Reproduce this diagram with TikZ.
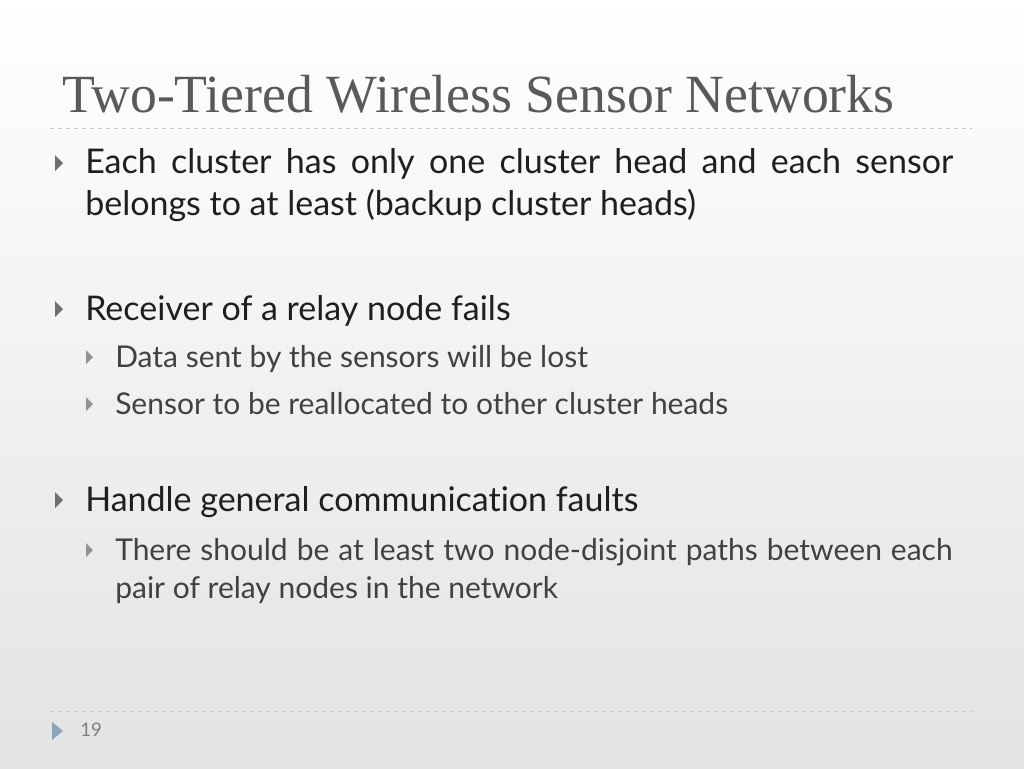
\documentclass[tikz,border=0pt]{standalone}
\usepackage{fontspec}
\setmainfont[Ligatures=NoCommon]{Lato}
\newfontfamily\titlefont{Liberation Serif}
\definecolor{txt}{HTML}{1F1F1F}
\definecolor{ttl}{HTML}{595959}
\definecolor{bul}{HTML}{6F6F6F}
\definecolor{pgn}{HTML}{8DA4B8}
\begin{document}
\begin{tikzpicture}[x=0.75pt,y=-0.75pt,
  lvlone/.style={anchor=base west,inner sep=0,font=\fontsize{25.5}{31.5}\selectfont,text=txt},
  lvltwo/.style={anchor=base west,inner sep=0,font=\fontsize{22.5}{28.5}\selectfont,text=txt!85},
  tri/.style={fill=bul,draw=none},
  sep/.style={draw=gray!45,dashed,line width=0.6pt}]
\shade[top color=white,bottom color=gray!22] (0,0) rectangle (1024,768);
\useasboundingbox (0,0) rectangle (1024,768);
\node[anchor=base west,inner sep=0,font=\titlefont\fontsize{40.3}{44}\selectfont,text=ttl] (title) at (62,112) {Two-Tiered Wireless Sensor Networks};
\draw[sep] (50,128) -- (972,128);
\draw[sep] (50,711) -- (972,711);
% bullets
\foreach \y in {163,309,500}{\fill[tri] (55,\y-8) -- (63,\y) -- (55,\y+8) -- cycle;}
\foreach \y in {357,404,550}{\fill[tri,fill=bul!75] (86,\y-7) -- (93,\y) -- (86,\y+7) -- cycle;}
\node[lvlone,text width=651pt,align=justify] (b1) at (85,173) {Each cluster has only one cluster head and each sensor\linebreak belongs to at least (backup cluster heads)};
\node[lvlone] (b2) at (85,320) {Receiver of a relay node fails};
\node[lvltwo] (s1) at (115,367) {Data sent by the sensors will be lost};
\node[lvltwo] (s2) at (115,414) {Sensor to be reallocated to other cluster heads};
\node[lvlone] (b3) at (85,511) {Handle general communication faults};
\node[lvltwo,text width=628pt,align=justify] (s3) at (115,560) {There should be at least two node-disjoint paths between each\linebreak pair of relay nodes in the network};
\fill[pgn] (52,722) -- (63,731) -- (52,740) -- cycle;
\node[anchor=base west,inner sep=0,font=\fontsize{14}{16}\selectfont,text=gray] (pg) at (80,736) {19};
\end{tikzpicture}
\end{document}
